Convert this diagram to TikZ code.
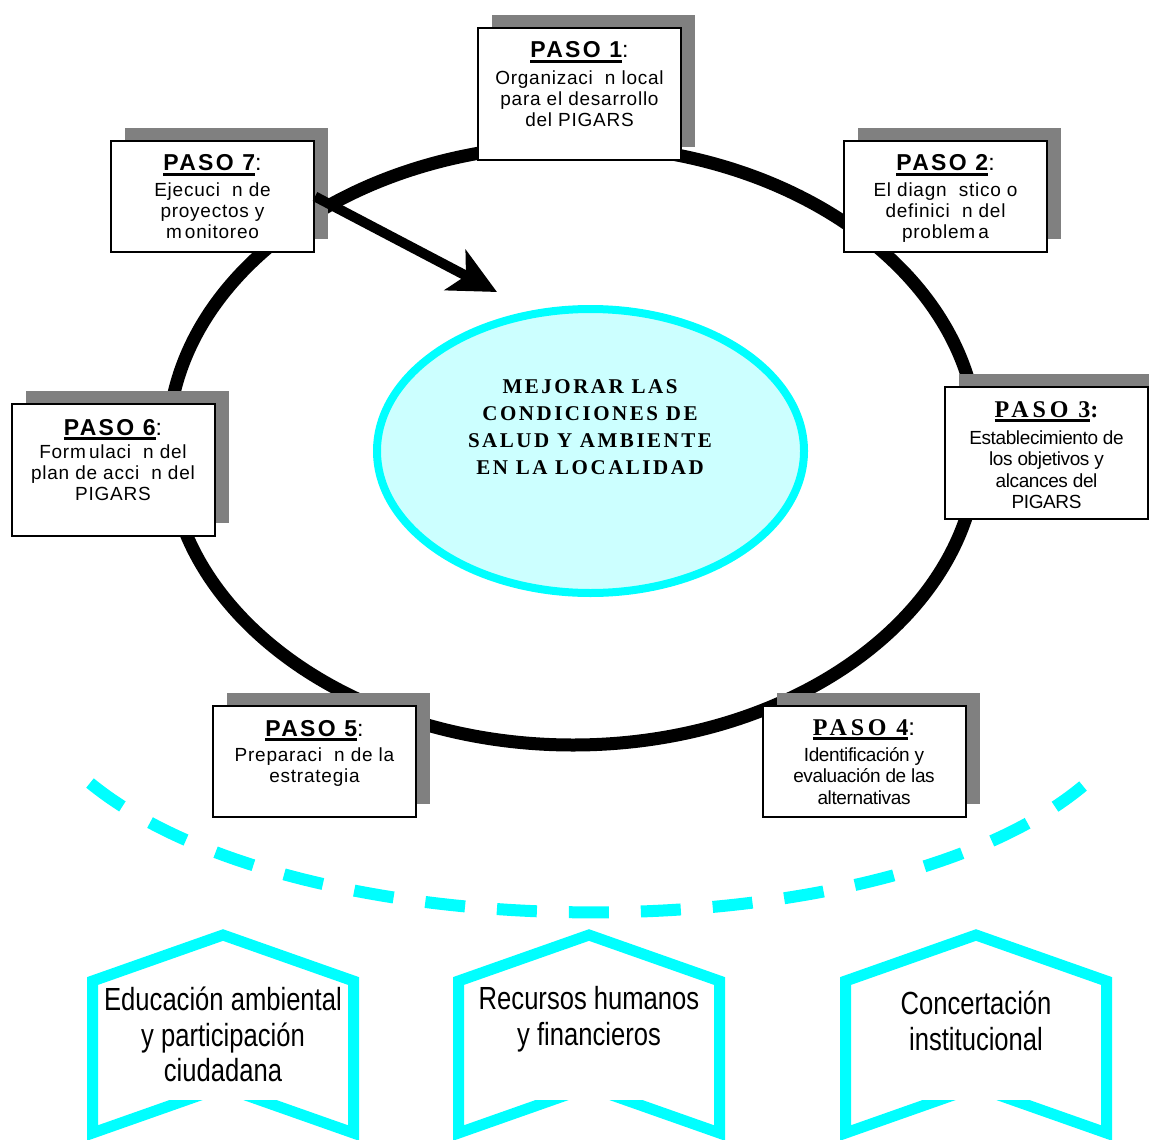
\documentclass[tikz,border=0pt]{standalone}
\usepackage{fontspec}
\setmainfont{Liberation Sans}
\newfontfamily\pasofont[LetterSpace=10]{Liberation Sans}
\newfontfamily\pasoromfont[LetterSpace=16]{Liberation Serif}
\newfontfamily\textofont[LetterSpace=4]{Liberation Sans}
\newfontfamily\apretadofont[LetterSpace=-2]{Liberation Sans}
\newfontfamily\centrofont[LetterSpace=12]{Liberation Serif}
\newfontfamily\estrechafont[FakeStretch=0.8]{Liberation Sans}
\usetikzlibrary{positioning,shapes.geometric,shadows,arrows.meta}
\definecolor{celeste}{RGB}{0,255,255}
\definecolor{celesteclaro}{RGB}{204,255,255}
\definecolor{sombra}{RGB}{128,128,128}
\newcommand{\subrayar}[1]{\setbox0=\hbox{#1}\rlap{\rule[-2.4pt]{\wd0}{1.4pt}}\box0}
\begin{document}
\begin{tikzpicture}[x=0.5pt,y=-0.5pt,
    caja/.style={draw=black,line width=1pt,fill=white,minimum width=101.5pt,
      general shadow={fill=sombra,shadow xshift=7pt,shadow yshift=6.5pt}},
    alta/.style={minimum height=66pt},
    baja/.style={minimum height=55.5pt},
    paso/.style={anchor=base,inner sep=0pt,font=\pasofont\bfseries\fontsize{11.5}{13}\selectfont},
    pasorom/.style={anchor=base,inner sep=0pt,font=\pasoromfont\bfseries\fontsize{12}{14}\selectfont},
    texto/.style={anchor=north,inner sep=0pt,align=center,font=\textofont\fontsize{9.5}{10.5}\selectfont},
    apretado/.style={anchor=north,inner sep=0pt,align=center,font=\apretadofont\fontsize{9.5}{10.75}\selectfont},
    lema/.style={inner sep=0pt,align=center,font=\centrofont\bfseries\fontsize{10.5}{13.5}\selectfont},
    anillo/.style={line width=6.5pt},
    flecha/.style={line width=5pt,-{Stealth[length=23.5pt,width=22.5pt,inset=6pt]}},
    guia/.style={draw=celeste,line width=6pt,dash pattern=on 20pt off 16pt},
    apoyo/.style={draw=celeste,line width=5.5pt,line join=miter},
    apoyotexto/.style={anchor=north,inner sep=0pt,align=center,font=\estrechafont\fontsize{16}{17.75}\selectfont}]
  \useasboundingbox (0,0) rectangle (1149,1139);
  \draw[anillo] (573,445) ellipse [x radius=202.5pt,y radius=150pt];
  \draw[guia] (90,783) .. controls (300,955) and (880,955) .. (1083,786);
  \node (meta) at (590.5,451) [ellipse,draw=celeste,fill=celesteclaro,line width=4pt,minimum width=213.5pt,minimum height=142pt] {};
  \node (lema) at (590,427) [lema] {MEJORAR LAS\\CONDICIONES DE\\SALUD Y AMBIENTE\\EN LA LOCALIDAD};

  \node (p1) at (579.5,94.5) [caja,alta] {};
  \node (t1) at (579.5,58) [paso] {\subrayar{PASO 1}\mdseries:};
  \node (c1) at (579.5,70) [texto] {Organizaci\ \ n local\\para el desarrollo\\del PIGARS};

  \node (p2) at (945.5,196.5) [caja,baja] {};
  \node (t2) at (945.5,171) [paso] {\subrayar{PASO 2}\mdseries:};
  \node (c2) at (945.5,182) [texto] {El diagn\ \ stico o\\definici\ \ n del\\problem\,a};

  \node (p3) at (1046.5,452.5) [caja,alta] {};
  \node (t3) at (1046.5,417) [pasorom] {\subrayar{PASO 3}:};
  \node (c3) at (1046.5,430) [apretado] {Establecimiento de\\los objetivos y\\alcances del\\PIGARS};

  \node (p4) at (864,761) [caja,baja] {};
  \node (t4) at (864,735) [pasorom] {\subrayar{PASO 4}\textofont\mdseries:};
  \node (c4) at (864,747) [apretado] {Identificación y\\evaluación de las\\alternativas};

  \node (p5) at (314.5,761) [caja,baja] {};
  \node (t5) at (314.5,736) [paso] {\subrayar{PASO 5}\mdseries:};
  \node (c5) at (314.5,747) [texto] {Preparaci\ \ n de la\\estrategia};

  \node (p6) at (113,469.5) [caja,alta] {};
  \node (t6) at (113,435) [paso] {\subrayar{PASO 6}\mdseries:};
  \node (c6) at (113,444) [texto] {Form\,ulaci\ \ n del\\plan de acci\ \ n del\\PIGARS};

  \node (p7) at (212.5,196.5) [caja,baja] {};
  \node (t7) at (212.5,171) [paso] {\subrayar{PASO 7}\mdseries:};
  \node (c7) at (212.5,182) [texto] {Ejecuci\ \ n de\\proyectos y\\m\,onitoreo};

  \coordinate (punta) at (497,292);
  \draw[flecha] (p7.east) -- (punta);

  \draw[apoyo] (92.5,1133) -- (92.5,981) -- (223,935) -- (353.5,981) -- (353.5,1133) -- (223,1087) -- cycle;
  \fill[white] (163,1072) rectangle (283,1100);
  \draw[apoyo] (458.5,1133) -- (458.5,981) -- (589,935) -- (719.5,981) -- (719.5,1133) -- (589,1087) -- cycle;
  \fill[white] (529,1072) rectangle (649,1100);
  \draw[apoyo] (845.5,1133) -- (845.5,981) -- (976,935) -- (1106.5,981) -- (1106.5,1133) -- (976,1087) -- cycle;
  \fill[white] (916,1072) rectangle (1036,1100);
  \node (a1) at (223,987) [apoyotexto] {Educación ambiental\\y participación\\ciudadana};
  \node (a2) at (589,986) [apoyotexto] {Recursos humanos\\y financieros};
  \node (a3) at (976,991) [apoyotexto] {Concertación\\institucional};
\end{tikzpicture}
\end{document}
